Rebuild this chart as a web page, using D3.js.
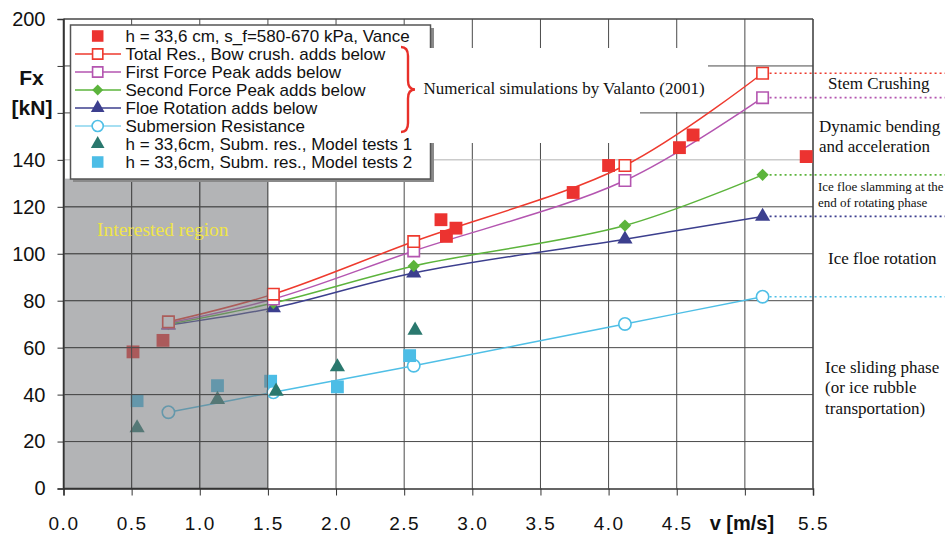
<!DOCTYPE html>
<html><head><meta charset="utf-8">
<script src="https://cdn.jsdelivr.net/npm/d3@7"></script>
<style>
html,body{margin:0;padding:0;background:#fff;}
svg{display:block;}
</style></head>
<body>
<svg id="chart" width="945" height="535"></svg>
<script>
// ---------------- DATA ----------------
const xTickValues = [0,0.5,1,1.5,2,2.5,3,3.5,4,4.5,5,5.5];
const xTickLabels = ["0.0","0.5","1.0","1.5","2.0","2.5","3.0","3.5","4.0","4.5","","5.5"];
const yTickValues = [0,20,40,60,80,100,120,140,160,180,200];
const yTickLabels = ["0","20","40","60","80","100","120","140","","","200"];

// Numerical simulations by Valanto (2001)
const vSim       = [0.77, 1.54, 2.57, 4.12, 5.13];
const totalRes   = [71.0, 82.8, 105.2, 137.6, 176.9];
const firstPeak  = [70.5, 80.7, 101.2, 131.2, 166.5];
const secondPeak = [70.0, 79.0, 94.8, 112.0, 133.6];
const floeRot    = [69.6, 76.9, 91.8, 106.2, 115.9];
const submRes    = [32.5, 41.0, 52.3, 70.1, 81.7];

// Vance, h = 33.6 cm
const vVance = [0.51, 0.73, 2.77, 2.81, 2.88, 3.74, 4.00, 4.52, 4.62, 5.45];
const fVance = [58.2, 63.1, 114.5, 107.4, 110.9, 126.1, 137.6, 145.2, 150.6, 141.4];

// Model tests
const vTest1 = [0.54, 1.13, 1.56, 2.01, 2.58];
const fTest1 = [25.8, 37.9, 41.4, 51.8, 67.4];
const vTest2 = [0.54, 1.13, 1.52, 2.01, 2.54];
const fTest2 = [37.4, 43.8, 45.7, 43.3, 56.6];

const legendLabels = [
  "h = 33,6 cm, s_f=580-670 kPa, Vance",
  "Total Res., Bow crush. adds below",
  "First Force Peak adds below",
  "Second Force Peak adds below",
  "Floe Rotation adds below",
  "Submersion Resistance",
  "h = 33,6cm, Subm. res., Model tests 1",
  "h = 33,6cm, Subm. res., Model tests 2"
];
const interestedRegion = [0, 1.5];   // v range
const interestedTop = 132;           // kN (below legend)

const phaseLabels = [
  {lines:["Stem Crushing"], size:17, y:[83]},
  {lines:["Dynamic bending","and acceleration"], size:17, y:[126,146]},
  {lines:["Ice floe slamming at the","end of  rotating phase"], size:13, y:[187,203]},
  {lines:["Ice floe rotation"], size:17, y:[258]},
  {lines:["Ice sliding phase","(or ice rubble","transportation)"], size:17, y:[367,387,408]}
];

// ---------------- SETUP ----------------
const W = 945, H = 535;
const svg = d3.select("#chart");
const SANS = "'Liberation Sans', Arial, sans-serif";
const SERIF = "'Liberation Serif', 'Times New Roman', serif";

const x = d3.scaleLinear().domain([0,5.5]).range([63.5,813]);
const y = d3.scaleLinear().domain([0,200]).range([488.5,19]);

const C = {
  red:"#ee3a2e", vance:"#ec3330", purple:"#b455b0", green:"#5cb43c",
  navy:"#3c3f8e", cyan:"#4fbfe6", teal:"#2a786e", lblue:"#4cbde6",
  grid:"#4a4a4a"
};

// ---------------- GRID ----------------
function drawGrid(g){
  g.selectAll("line.v").data(xTickValues.slice(1)).join("line")
    .attr("x1",d=>x(d)).attr("x2",d=>x(d))
    .attr("y1",y(0)).attr("y2",y(200))
    .attr("stroke",C.grid).attr("stroke-width",1);
  g.selectAll("line.h").data(yTickValues.slice(1)).join("line")
    .attr("x1",x(0)).attr("x2",x(5.5))
    .attr("y1",d=>y(d)).attr("y2",d=>y(d))
    .attr("stroke",d=>d===140?"#b0b0b0":C.grid).attr("stroke-width",1);
}
drawGrid(svg.append("g"));

// ---------------- AXES ----------------
const yAxis = svg.append("g").attr("transform",`translate(${x(0)},0)`)
  .call(d3.axisLeft(y).tickValues(yTickValues).tickSize(6).tickPadding(12)
        .tickFormat((d,i)=>yTickLabels[i]));
yAxis.selectAll("text").attr("font-family",SANS).attr("font-size",20).attr("fill","#111");
yAxis.selectAll("line").attr("stroke","#333");
yAxis.select(".domain").attr("stroke","#333").attr("stroke-width",1.5);

const xAxis = svg.append("g").attr("transform",`translate(0,${y(0)})`)
  .call(d3.axisBottom(x).tickValues(xTickValues).tickSize(7).tickPadding(21)
        .tickFormat((d,i)=>xTickLabels[i]));
xAxis.selectAll("text").attr("font-family",SANS).attr("font-size",19)
  .attr("letter-spacing","1.5px").attr("fill","#111");
xAxis.selectAll("line").attr("stroke","#333");
xAxis.select(".domain").attr("stroke","#333").attr("stroke-width",1.5);

// top & right border
svg.append("line").attr("x1",x(0)).attr("x2",x(5.5)).attr("y1",y(200)).attr("y2",y(200))
  .attr("stroke","#444").attr("stroke-width",1.2);
svg.append("line").attr("x1",x(5.5)).attr("x2",x(5.5)).attr("y1",y(200)).attr("y2",y(0))
  .attr("stroke","#444").attr("stroke-width",1.2);

// ---------------- DATA MARKS ----------------
const sim = [
  {vals:totalRes,  color:C.red,    sym:"osquare"},
  {vals:firstPeak, color:C.purple, sym:"osquare"},
  {vals:secondPeak,color:C.green,  sym:"diamond"},
  {vals:floeRot,   color:C.navy,   sym:"triangle"},
  {vals:submRes,   color:C.cyan,   sym:"ocircle"}
];
const line = d3.line().x(d=>x(d[0])).y(d=>y(d[1])).curve(d3.curveCatmullRom.alpha(0.5));

function symPath(kind, scale){
  const s = scale||1;
  if(kind==="osquare") return d3.symbol(d3.symbolSquare, 130*s*s)();
  if(kind==="square")  return d3.symbol(d3.symbolSquare, 165*s*s)();
  if(kind==="diamond") return d3.symbol(d3.symbolSquare, 75*s*s)();
  if(kind==="triangle")return d3.symbol(d3.symbolTriangle, 100*s*s)();
  if(kind==="ocircle") return d3.symbol(d3.symbolCircle, 120*s*s)();
}
function drawMarker(g, kind, color, cx, cy, scale){
  const p = g.append("path").attr("d",symPath(kind,scale));
  let tr = `translate(${cx},${cy})`;
  if(kind==="diamond") tr += " rotate(45)";
  p.attr("transform",tr);
  if(kind==="osquare"||kind==="ocircle"){
    p.attr("fill","#fff").attr("stroke",color).attr("stroke-width",1.6);
  } else {
    p.attr("fill",color);
  }
}

const dataG = svg.append("g");
sim.slice().reverse().forEach(s=>{
  const pts = vSim.map((v,i)=>[v,s.vals[i]]);
  dataG.append("path").attr("d",line(pts)).attr("fill","none")
    .attr("stroke",s.color).attr("stroke-width",1.5);
});
sim.slice().reverse().forEach(s=>{
  vSim.forEach((v,i)=>drawMarker(dataG,s.sym,s.color,x(v),y(s.vals[i])));
});
vTest2.forEach((v,i)=>drawMarker(dataG,"square",C.lblue,x(v),y(fTest2[i])));
vTest1.forEach((v,i)=>drawMarker(dataG,"triangle",C.teal,x(v),y(fTest1[i])));
vVance.forEach((v,i)=>drawMarker(dataG,"square",C.vance,x(v),y(fVance[i])));

// dotted extensions
sim.forEach(s=>{
  const yy = y(s.vals[s.vals.length-1]);
  svg.append("line").attr("x1",x(vSim[vSim.length-1])+7).attr("x2",W)
    .attr("y1",yy).attr("y2",yy).attr("stroke",s.color)
    .attr("stroke-width",1.6).attr("stroke-dasharray","2,3");
});

// ---------------- INTERESTED REGION ----------------
svg.append("rect")
  .attr("x",x(interestedRegion[0])).attr("y",y(interestedTop))
  .attr("width",x(interestedRegion[1])-x(interestedRegion[0]))
  .attr("height",y(0)-y(interestedTop))
  .attr("fill","rgb(120,122,124)").attr("fill-opacity",0.56);
// grid over the shaded area
svg.append("defs").append("clipPath").attr("id","shadeClip")
  .append("rect").attr("x",x(0)).attr("y",y(interestedTop))
  .attr("width",x(1.5)-x(0)).attr("height",y(0)-y(interestedTop));
const g2 = svg.append("g").attr("clip-path","url(#shadeClip)");
drawGrid(g2);
svg.append("line").attr("x1",x(0)).attr("x2",x(0)).attr("y1",y(200)).attr("y2",y(0))
  .attr("stroke","#333").attr("stroke-width",1.5);
svg.append("line").attr("x1",x(0)).attr("x2",x(1.5)).attr("y1",y(0)).attr("y2",y(0))
  .attr("stroke","#333").attr("stroke-width",1.5);
svg.append("text").attr("x",97).attr("y",236)
  .attr("font-family",SERIF).attr("font-size",19.5)
  .attr("fill","#f0e548").text("Interested region");

// ---------------- LEGEND ----------------
const lg = svg.append("g");
lg.append("rect").attr("x",73).attr("y",28).attr("width",361).attr("height",154).attr("fill","#8a8a8a");
lg.append("rect").attr("x",70.5).attr("y",25).attr("width",360).attr("height",154)
  .attr("fill","#fff").attr("stroke","#555").attr("stroke-width",1.5);
const legSyms = [
  {kind:"square",  color:C.vance, line:false},
  {kind:"osquare", color:C.red,   line:true},
  {kind:"osquare", color:C.purple,line:true},
  {kind:"diamond", color:C.green, line:true},
  {kind:"triangle",color:C.navy,  line:true},
  {kind:"ocircle", color:C.cyan,  line:true, thin:true},
  {kind:"triangle",color:C.teal,  line:false},
  {kind:"square",  color:C.lblue, line:false}
];
legendLabels.forEach((lab,i)=>{
  const cy = 36 + i*18;
  const s = legSyms[i];
  if(s.line){
    lg.append("line").attr("x1",75).attr("x2",121).attr("y1",cy).attr("y2",cy)
      .attr("stroke",s.color).attr("stroke-width",s.thin?1.2:1.5);
  }
  drawMarker(lg,s.kind,s.color,97.7,cy,0.9);
  lg.append("text").attr("x",125.5).attr("y",cy).attr("dy","0.36em")
    .attr("font-family",SANS).attr("font-size",17).attr("fill","#111").text(lab);
});

// ---------------- ANNOTATION BOX & BRACE ----------------
svg.append("path").attr("d","M418,48 L708,48 L708,112 L640,112 L640,143 L418,143 Z")
  .attr("fill","#fff");
(function(){
  const bx=401, w=14, y1=47, y2=132, ym=(y1+y2)/2, r=9;
  const d = `M${bx},${y1} Q${bx+w/2},${y1} ${bx+w/2},${y1+r} L${bx+w/2},${ym-r} Q${bx+w/2},${ym} ${bx+w},${ym}`+
            ` Q${bx+w/2},${ym} ${bx+w/2},${ym+r} L${bx+w/2},${y2-r} Q${bx+w/2},${y2} ${bx},${y2}`;
  svg.append("path").attr("d",d).attr("fill","none").attr("stroke","#e8302a").attr("stroke-width",2.4);
})();
svg.append("text").attr("x",423.5).attr("y",88.5).attr("dy","0.33em")
  .attr("font-family",SERIF).attr("font-size",17).attr("fill","#111")
  .text("Numerical simulations by Valanto (2001)");

// ---------------- PHASE LABELS ----------------
const phaseX = [828, 819, 818, 828, 825];
phaseLabels.forEach((p,k)=>{
  p.lines.forEach((t,j)=>{
    svg.append("text").attr("x",phaseX[k]).attr("y",p.y[j]).attr("dy","0.33em")
      .attr("font-family",SERIF).attr("font-size",p.size).attr("fill","#111").text(t);
  });
});

// ---------------- AXIS TITLES ----------------
svg.append("text").attr("x",31.5).attr("y",78).attr("dy","0.35em").attr("text-anchor","middle")
  .attr("font-family",SANS).attr("font-weight","bold").attr("font-size",21).attr("fill","#111").text("Fx");
svg.append("text").attr("x",32).attr("y",108).attr("dy","0.35em").attr("text-anchor","middle")
  .attr("font-family",SANS).attr("font-weight","bold").attr("font-size",21).attr("fill","#111").text("[kN]");
svg.append("text").attr("x",x(5)-3).attr("y",523).attr("dy","0.35em").attr("text-anchor","middle")
  .attr("font-family",SANS).attr("font-weight","bold").attr("font-size",20).attr("fill","#111").text("v [m/s]");
</script>
</body></html>
